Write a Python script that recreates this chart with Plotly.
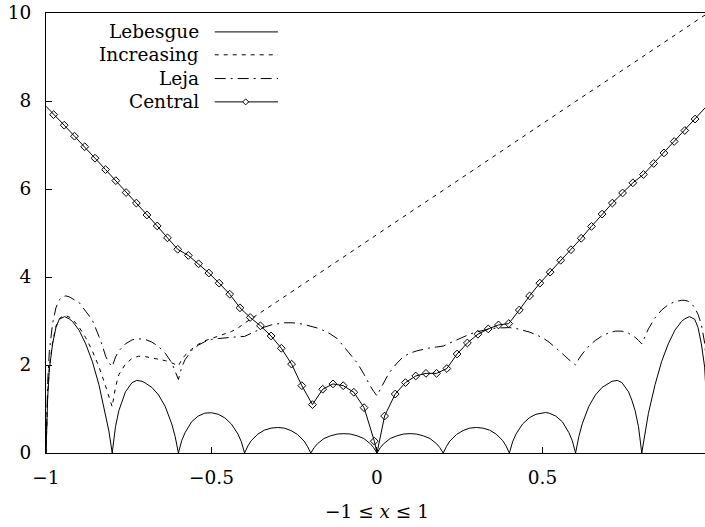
import plotly.graph_objects as go

# ---------------- data ----------------
leb_x = [-1.0, -0.995, -0.99, -0.98, -0.97, -0.96, -0.944, -0.93, -0.92, -0.90, -0.88, -0.86, -0.84, -0.82, -0.81, -0.80,
         -0.79, -0.78, -0.77, -0.76, -0.74, -0.726, -0.71, -0.70, -0.68, -0.66, -0.64, -0.62, -0.61, -0.60,
         -0.59, -0.58, -0.56, -0.54, -0.52, -0.509, -0.50, -0.48, -0.46, -0.44, -0.42, -0.41, -0.40,
         -0.39, -0.38, -0.36, -0.34, -0.32, -0.30, -0.28, -0.26, -0.24, -0.22, -0.21, -0.20,
         -0.19, -0.18, -0.16, -0.14, -0.12, -0.10, -0.08, -0.06, -0.04, -0.02, -0.01, 0.0,
         0.01, 0.02, 0.04, 0.06, 0.08, 0.10, 0.12, 0.14, 0.16, 0.18, 0.19, 0.20,
         0.21, 0.22, 0.24, 0.26, 0.28, 0.30, 0.32, 0.34, 0.36, 0.38, 0.39, 0.40,
         0.41, 0.42, 0.44, 0.46, 0.48, 0.50, 0.509, 0.52, 0.54, 0.56, 0.58, 0.59, 0.60,
         0.61, 0.62, 0.64, 0.66, 0.68, 0.70, 0.71, 0.726, 0.74, 0.76, 0.77, 0.78, 0.79, 0.80,
         0.81, 0.82, 0.84, 0.86, 0.88, 0.90, 0.92, 0.93, 0.944, 0.96, 0.97, 0.98, 0.99, 0.995, 1.0]
leb_y = [0.0, 1.25, 1.9, 2.48, 2.85, 3.04, 3.1, 3.05, 2.99, 2.79, 2.48, 2.08, 1.55, 0.9, 0.5, 0.0,
         0.6, 0.96, 1.2, 1.39, 1.6, 1.65, 1.63, 1.59, 1.49, 1.32, 1.06, 0.66, 0.38, 0.0,
         0.28, 0.46, 0.71, 0.84, 0.906, 0.92, 0.915, 0.88, 0.80, 0.66, 0.43, 0.26, 0.0,
         0.16, 0.28, 0.43, 0.52, 0.565, 0.58, 0.565, 0.51, 0.42, 0.27, 0.15, 0.0,
         0.12, 0.21, 0.33, 0.39, 0.43, 0.44, 0.43, 0.39, 0.33, 0.21, 0.12, 0.0,
         0.12, 0.21, 0.33, 0.39, 0.43, 0.44, 0.43, 0.39, 0.33, 0.21, 0.12, 0.0,
         0.15, 0.27, 0.42, 0.51, 0.565, 0.58, 0.565, 0.52, 0.43, 0.28, 0.16, 0.0,
         0.26, 0.43, 0.66, 0.80, 0.88, 0.915, 0.92, 0.906, 0.84, 0.71, 0.46, 0.28, 0.0,
         0.38, 0.66, 1.06, 1.32, 1.49, 1.59, 1.63, 1.65, 1.6, 1.39, 1.2, 0.96, 0.6, 0.0,
         0.5, 0.9, 1.55, 2.08, 2.48, 2.79, 2.99, 3.05, 3.1, 3.04, 2.85, 2.48, 1.95, 1.25, 0.0]

inc_x = [-1.0, -0.995, -0.99, -0.98, -0.97, -0.96, -0.95, -0.94, -0.93, -0.92, -0.90, -0.88, -0.86, -0.84, -0.82, -0.81, -0.80,
         -0.79, -0.78, -0.76, -0.74, -0.72, -0.70, -0.68, -0.66, -0.64, -0.62, -0.61, -0.60,
         -0.59, -0.58, -0.56, -0.54, -0.52, -0.50, -0.48, -0.46, -0.44, -0.42, -0.40,
         -0.30, -0.20, -0.10, 0.0, 0.1, 0.2, 0.3, 0.4, 0.5, 0.6, 0.7, 0.8, 0.9, 1.0]
inc_y = [0.0, 1.3, 1.95, 2.52, 2.88, 3.05, 3.11, 3.12, 3.09, 3.04, 2.86, 2.62, 2.32, 1.96, 1.52, 1.28, 1.05,
         1.5, 1.78, 2.02, 2.15, 2.2, 2.19, 2.16, 2.13, 2.1, 2.05, 2.02, 1.98,
         2.12, 2.22, 2.36, 2.47, 2.55, 2.6, 2.65, 2.7, 2.76, 2.84, 2.95,
         3.45, 3.96, 4.47, 4.97, 5.47, 5.97, 6.48, 6.98, 7.49, 7.99, 8.49, 8.99, 9.50, 10.0]

leja_x = [-1.0, -0.995, -0.99, -0.98, -0.97, -0.96, -0.95, -0.94, -0.93, -0.92, -0.90, -0.88, -0.86, -0.84, -0.83, -0.82, -0.81, -0.80,
          -0.79, -0.78, -0.76, -0.74, -0.725, -0.70, -0.68, -0.66, -0.64, -0.62, -0.61, -0.60,
          -0.59, -0.58, -0.56, -0.54, -0.52, -0.50, -0.48, -0.46, -0.44, -0.42, -0.40,
          -0.38, -0.36, -0.34, -0.32, -0.30, -0.28, -0.26, -0.24, -0.22, -0.20, -0.18, -0.16, -0.14, -0.12,
          -0.10, -0.08, -0.06, -0.04, -0.03, -0.02, -0.01, 0.0,
          0.01, 0.02, 0.03, 0.04, 0.06, 0.08, 0.10, 0.12, 0.14, 0.16, 0.18, 0.20,
          0.22, 0.24, 0.26, 0.28, 0.30, 0.32, 0.34, 0.36, 0.38, 0.40, 0.42, 0.44, 0.46, 0.48,
          0.50, 0.52, 0.54, 0.56, 0.58, 0.59, 0.60, 0.61, 0.62, 0.64, 0.66, 0.68, 0.70, 0.72, 0.74,
          0.76, 0.78, 0.79, 0.80, 0.81, 0.82, 0.84, 0.86, 0.88, 0.90, 0.92, 0.93, 0.94, 0.95, 0.96,
          0.97, 0.98, 0.99, 1.0]
leja_y = [0.0, 1.6, 2.3, 2.95, 3.3, 3.48, 3.55, 3.57, 3.55, 3.5, 3.42, 3.22, 3.02, 2.65, 2.45, 2.2, 2.05, 1.96,
          2.18, 2.32, 2.48, 2.57, 2.6, 2.58, 2.52, 2.42, 2.27, 2.05, 1.88, 1.67,
          1.95, 2.12, 2.33, 2.45, 2.53, 2.58, 2.6, 2.62, 2.63, 2.64, 2.65,
          2.72, 2.79, 2.86, 2.91, 2.94, 2.96, 2.96, 2.95, 2.92, 2.88, 2.84, 2.78, 2.7, 2.6,
          2.42, 2.25, 2.05, 1.8, 1.65, 1.52, 1.4, 1.3,
          1.45, 1.6, 1.73, 1.85, 2.04, 2.19, 2.27, 2.32, 2.36, 2.39, 2.41, 2.43,
          2.5, 2.57, 2.64, 2.7, 2.75, 2.79, 2.82, 2.84, 2.85, 2.85, 2.83, 2.79, 2.75, 2.69,
          2.62, 2.52, 2.40, 2.26, 2.12, 2.06, 2.0, 2.14, 2.25, 2.43, 2.56, 2.66, 2.73, 2.77, 2.77,
          2.72, 2.63, 2.56, 2.48, 2.65, 2.82, 3.07, 3.25, 3.37, 3.44, 3.47, 3.47, 3.45, 3.4, 3.3,
          3.15, 2.92, 2.5, 1.6]

# Central: marked samples, plus the end/centre samples of its line
cen_x = [-0.977, -0.945, -0.914, -0.883, -0.852, -0.820, -0.789, -0.758, -0.727, -0.695, -0.664, -0.633,
         -0.602, -0.570, -0.539, -0.508, -0.477, -0.445, -0.414, -0.383, -0.352, -0.320, -0.289, -0.258,
         -0.227, -0.195, -0.164, -0.133, -0.102, -0.070, -0.039, -0.008,
         0.023, 0.055, 0.086, 0.117, 0.148, 0.180, 0.211, 0.242, 0.273, 0.305, 0.336, 0.367,
         0.398, 0.430, 0.461, 0.492, 0.523, 0.555, 0.586, 0.617, 0.648, 0.680, 0.711, 0.742,
         0.773, 0.805, 0.836, 0.867, 0.898, 0.930, 0.961, 0.992]
cen_y = [7.69, 7.45, 7.20, 6.96, 6.70, 6.44, 6.19, 5.92, 5.68, 5.41, 5.16, 4.89,
         4.63, 4.49, 4.30, 4.09, 3.86, 3.61, 3.30, 3.08, 2.89, 2.66, 2.38, 2.02,
         1.53, 1.10, 1.45, 1.57, 1.53, 1.38, 1.03, 0.27,
         0.84, 1.34, 1.60, 1.75, 1.81, 1.81, 1.92, 2.25, 2.50, 2.70, 2.82, 2.91,
         2.94, 3.25, 3.57, 3.86, 4.11, 4.38, 4.62, 4.88, 5.15, 5.43, 5.68, 5.91,
         6.14, 6.33, 6.58, 6.82, 7.08, 7.33, 7.59, 7.85]
cen_line_x = [-1.0] + cen_x[:32] + [0.0] + cen_x[32:] + [1.0]
cen_line_y = [7.88] + cen_y[:32] + [0.0] + cen_y[32:] + [7.92]

x_tick_vals = [-1, -0.5, 0, 0.5]
x_tick_text = ["−1", "−0.5", "0", "0.5"]
y_tick_vals = [0, 2, 4, 6, 8, 10]
y_tick_text = ["0", "2", "4", "6", "8", "10"]

legend_names = ["Lebesgue", "Increasing", "Leja", "Central"]

FONT = "DejaVu Serif"
FS = 18.5
INC_DASH = "4px,5px"
LEJA_DASH = "11px,5px,2px,5px"

fig = go.Figure()
fig.add_trace(go.Scatter(x=leb_x, y=leb_y, mode="lines", line=dict(color="black", width=1), name="Lebesgue"))
fig.add_trace(go.Scatter(x=inc_x, y=inc_y, mode="lines", line=dict(color="black", width=1, dash=INC_DASH), name="Increasing"))
fig.add_trace(go.Scatter(x=leja_x, y=leja_y, mode="lines", line=dict(color="black", width=1, dash=LEJA_DASH), name="Leja"))
fig.add_trace(go.Scatter(x=cen_line_x, y=cen_line_y, mode="lines", line=dict(color="black", width=1), name="Central"))
fig.add_trace(go.Scatter(x=cen_x, y=cen_y, mode="markers",
                         marker=dict(symbol="diamond-open", size=6, color="black", line=dict(width=1, color="black")),
                         name="Central", cliponaxis=False))

fig.update_layout(
    width=705, height=527,
    margin=dict(l=46, r=0, t=13, b=74),
    paper_bgcolor="white", plot_bgcolor="white",
    showlegend=False,
    font=dict(family=FONT, size=FS, color="black"),
)
fig.update_xaxes(range=[-1, 0.991], tickvals=x_tick_vals, ticktext=x_tick_text,
                 ticks="inside", ticklen=6, tickcolor="black", tickwidth=1,
                 showline=True, linecolor="black", linewidth=1, mirror=True,
                 showgrid=False, zeroline=False, ticklabelstandoff=8)
fig.update_yaxes(range=[0, 10], tickvals=y_tick_vals, ticktext=y_tick_text,
                 ticks="inside", ticklen=6, tickcolor="black", tickwidth=1,
                 showline=True, linecolor="black", linewidth=1, mirror=False,
                 showgrid=False, zeroline=False, ticklabelstandoff=10)

# tick label "1" (sits at the cropped right edge)
fig.add_annotation(x=1, xref="x", y=-0.0545, yref="paper", text="1", showarrow=False,
                   xanchor="center", yanchor="middle", font=dict(family=FONT, size=FS))
# axis title
fig.add_annotation(x=0, xref="x", y=-0.133, yref="paper", text="−1 ≤ <i>x</i> ≤ 1", showarrow=False,
                   xanchor="center", yanchor="middle", font=dict(family=FONT, size=FS))

# legend (text at left, sample at right)
rows_y = [0.957, 0.905, 0.851, 0.798]
dashes = ["solid", INC_DASH, LEJA_DASH, "solid"]
for name, ry, d in zip(legend_names, rows_y, dashes):
    fig.add_annotation(x=0.2355, xref="paper", y=ry, yref="paper", text=name, showarrow=False,
                       xanchor="right", yanchor="middle", font=dict(family=FONT, size=FS))
    fig.add_shape(type="line", xref="paper", yref="paper", x0=0.256, x1=0.352, y0=ry, y1=ry,
                  line=dict(color="black", width=1, dash=d))
fig.add_shape(type="path", xref="paper", yref="paper", xsizemode="pixel", ysizemode="pixel",
              xanchor=0.303, yanchor=rows_y[3], path="M -3 0 L 0 3 L 3 0 L 0 -3 Z",
              line=dict(color="black", width=1), fillcolor="white")

fig.write_html("out.html")
